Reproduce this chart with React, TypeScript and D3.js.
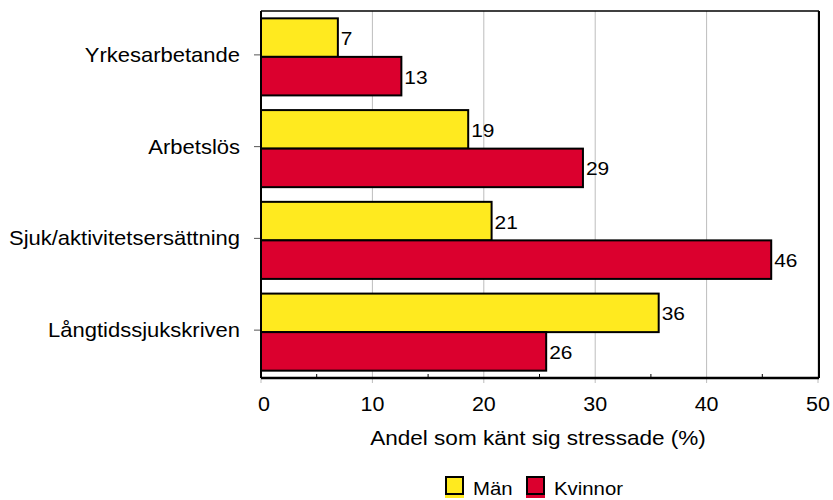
import React from "react";
import * as d3 from "d3";

const categories = ["Yrkesarbetande", "Arbetslös", "Sjuk/aktivitetsersättning", "Långtidssjukskriven"];
const seriesNames = ["Män", "Kvinnor"];
const menValues = [6.9, 18.6, 20.7, 35.7];
const womenValues = [12.6, 28.9, 45.8, 25.6];
const xTicks = [0, 10, 20, 30, 40, 50];
const minorTicks = [5, 15, 25, 35, 45];
const xTitle = "Andel som känt sig stressade (%)";

const colors = ["#FFEA1F", "#DB002E"];
const font = "Liberation Sans, Arial, sans-serif";
const STRETCH = 1.1;

function T({ x, y, size, anchor, children }: { x: number; y: number; size: number; anchor?: string; children: React.ReactNode }) {
  return (
    <text transform={`translate(${x},${y}) scale(${STRETCH},1)`} fontSize={size} textAnchor={anchor || "start"} fill="#000">
      {children}
    </text>
  );
}

export default function App() {
  const W = 833, H = 500;
  const left = 261, right = 818, top = 11, bottom = 378;
  const x = d3.scaleLinear().domain([0, 50]).range([left, right]);
  const y = d3.scaleBand<string>().domain(categories).range([top, bottom]).paddingInner(0.16).paddingOuter(0.08);
  const inner = d3.scaleBand<number>().domain([0, 1]).range([0, y.bandwidth()]);
  const series = [menValues, womenValues];

  return (
    <svg width={W} height={H} style={{ position: "absolute", left: 0, top: 0 }} fontFamily={font}>
      <rect x={0} y={0} width={W} height={H} fill="#fff" />
      {xTicks.map((t) => (
        <line key={"g" + t} x1={x(t)} x2={x(t)} y1={top} y2={bottom + 5} stroke="#bdbdbd" strokeWidth={1} />
      ))}
      {minorTicks.map((t) => (
        <line key={"m" + t} x1={x(t)} x2={x(t)} y1={bottom - 4} y2={bottom} stroke="#000" strokeWidth={1} />
      ))}
      {categories.map((c) => (
        <line key={"yt" + c} x1={left - 7} x2={left} y1={(y(c) as number) + y.bandwidth() / 2 - 2} y2={(y(c) as number) + y.bandwidth() / 2 - 2} stroke="#555" strokeWidth={1} />
      ))}
      {categories.map((c, i) =>
        series.map((vals, s) => {
          const y0 = (y(c) as number) + (inner(s) as number);
          const v = vals[i];
          return (
            <g key={c + s}>
              <rect x={x(0)} y={y0} width={x(v) - x(0)} height={inner.bandwidth()} fill={colors[s]} stroke="#000" strokeWidth={2} />
              <T x={x(v) + 3} y={y0 + inner.bandwidth() / 2 + 7.5} size={19}>{Math.round(v)}</T>
            </g>
          );
        })
      )}
      <line x1={left} x2={left} y1={top} y2={bottom} stroke="#000" strokeWidth={2} />
      <line x1={left} x2={right + 1} y1={bottom} y2={bottom} stroke="#000" strokeWidth={2.5} />
      <line x1={right + 1} x2={right + 1} y1={top} y2={bottom} stroke="#000" strokeWidth={2} />
      <line x1={left} x2={right + 1} y1={top} y2={top} stroke="#000" strokeWidth={1.5} />
      {categories.map((c) => (
        <T key={"yl" + c} x={240} y={(y(c) as number) + y.bandwidth() / 2 + 5} size={20} anchor="end">{c}</T>
      ))}
      {xTicks.map((t) => (
        <T key={"xl" + t} x={x(t) + (t === 0 ? 3 : 0)} y={411} size={19.5} anchor="middle">{t}</T>
      ))}
      <T x={538} y={445} size={20.5} anchor="middle">{xTitle}</T>
      {seriesNames.map((n, s) => {
        const lx = s === 0 ? 445 : 526;
        return (
          <g key={n}>
            <rect x={lx} y={494} width={19} height={4} fill={colors[s]} />
            <rect x={lx + 1} y={477} width={17} height={17} fill={colors[s]} stroke="#000" strokeWidth={2} />
            <T x={lx + 28} y={495} size={18.5}>{n}</T>
          </g>
        );
      })}
    </svg>
  );
}
